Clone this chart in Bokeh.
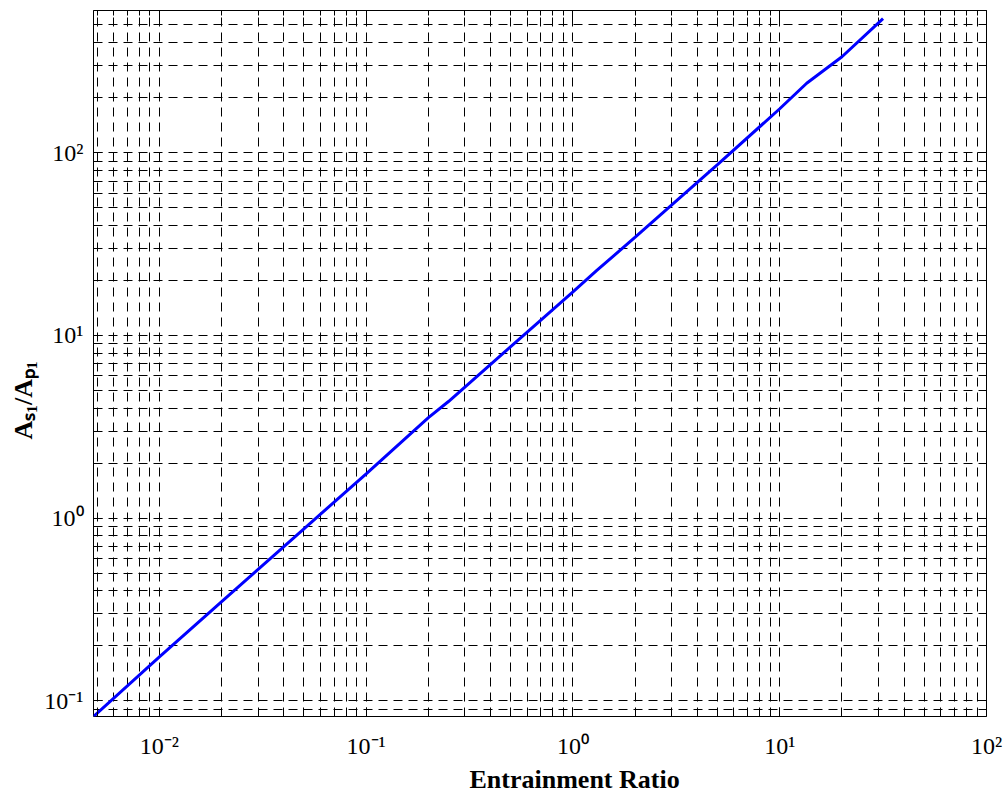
from bokeh.plotting import figure
from bokeh.models import FixedTicker, LogAxis, CustomJSTickFormatter, Range1d, Title
from bokeh.embed import file_html
from bokeh.resources import INLINE

# ---- data ----
entrainment_ratio = [0.0048, 0.01, 0.02, 0.05, 0.1, 0.2, 0.25, 0.5, 1.0, 1.3, 2.0,
                     2.7, 5.0, 10.0, 13.5, 20.0, 31.6]
area_ratio = [0.0822, 0.174, 0.350, 0.875, 1.75, 3.55, 4.35, 8.7, 17.3, 22.6, 34.5,
              46.5, 86.0, 174.0, 240.0, 335.0, 541.0]

x_decades = [-3, -2, -1, 0, 1, 2]
y_decades = [-2, -1, 0, 1, 2, 3]
x_limits = [0.0048, 100]
y_limits = [0.0822, 600]
x_title = "Entrainment Ratio"
y_title = "A\u209b\u2081/A\u209a\u2081"

FONT = "Liberation Serif"

p = figure(width=1003, height=795, x_axis_type="log", y_axis_type="log",
           x_range=Range1d(*x_limits), y_range=Range1d(*y_limits),
           output_backend="svg", toolbar_location=None,
           min_border_left=93, min_border_right=17, min_border_top=10, min_border_bottom=79)
p.background_fill_color = "white"
p.border_fill_color = "white"
p.outline_line_color = "black"
p.outline_line_width = 1

xt_major = [10.0 ** k for k in x_decades]
xt_minor = [m * 10.0 ** k for k in x_decades for m in range(2, 10)]
yt_major = [10.0 ** k for k in y_decades]
yt_minor = [m * 10.0 ** k for k in y_decades for m in range(2, 10)]
xticker = FixedTicker(ticks=xt_major, minor_ticks=xt_minor)
yticker = FixedTicker(ticks=yt_major, minor_ticks=yt_minor)

power_fmt = CustomJSTickFormatter(code="""
const sup = {'-': '\u207b', '0': '\u2070', '1': '\u00b9', '2': '\u00b2', '3': '\u00b3',
             '4': '\u2074', '5': '\u2075', '6': '\u2076', '7': '\u2077', '8': '\u2078', '9': '\u2079'};
const e = String(Math.round(Math.log10(tick)));
let s = '';
for (const c of e) { s += sup[c]; }
return '10' + s;
""")
empty_fmt = CustomJSTickFormatter(code="return ''")


def style_axis(ax, labelled):
    ax.axis_line_color = None
    ax.major_tick_in = 9
    ax.major_tick_out = 0
    ax.minor_tick_in = 5
    ax.minor_tick_out = 0
    ax.major_tick_line_color = "black"
    ax.minor_tick_line_color = "black"
    if labelled:
        ax.formatter = power_fmt
        ax.major_label_text_font = FONT
        ax.major_label_text_font_size = "24px"
        ax.major_label_text_color = "black"
    else:
        ax.formatter = empty_fmt
        ax.major_label_standoff = 0
        ax.major_label_text_font_size = "1px"


p.xaxis.ticker = xticker
p.yaxis.ticker = yticker
style_axis(p.xaxis[0], True)
style_axis(p.yaxis[0], True)
p.xaxis[0].major_label_standoff = 16
p.yaxis[0].major_label_standoff = 10

top_ax = LogAxis(ticker=xticker)
style_axis(top_ax, False)
p.add_layout(top_ax, "above")
right_ax = LogAxis(ticker=yticker)
style_axis(right_ax, False)
p.add_layout(right_ax, "right")

for g in (p.xgrid, p.ygrid):
    g.grid_line_color = "black"
    g.grid_line_dash = "9 6"
    g.grid_line_width = 1
    g.minor_grid_line_color = "black"
    g.minor_grid_line_dash = "9 6"
    g.minor_grid_line_width = 1

p.line(entrainment_ratio, area_ratio, line_color="#0000ff", line_width=3)

p.add_layout(Title(text=x_title, align="left", offset=376, standoff=2,
                   text_font=FONT, text_font_size="26px", text_font_style="bold",
                   text_color="black"), "below")
p.add_layout(Title(text=y_title, align="left", offset=277, standoff=8,
                   text_font=FONT, text_font_size="26px", text_font_style="bold",
                   text_color="black"), "left")

open("out.html", "w").write(file_html(p, INLINE))
